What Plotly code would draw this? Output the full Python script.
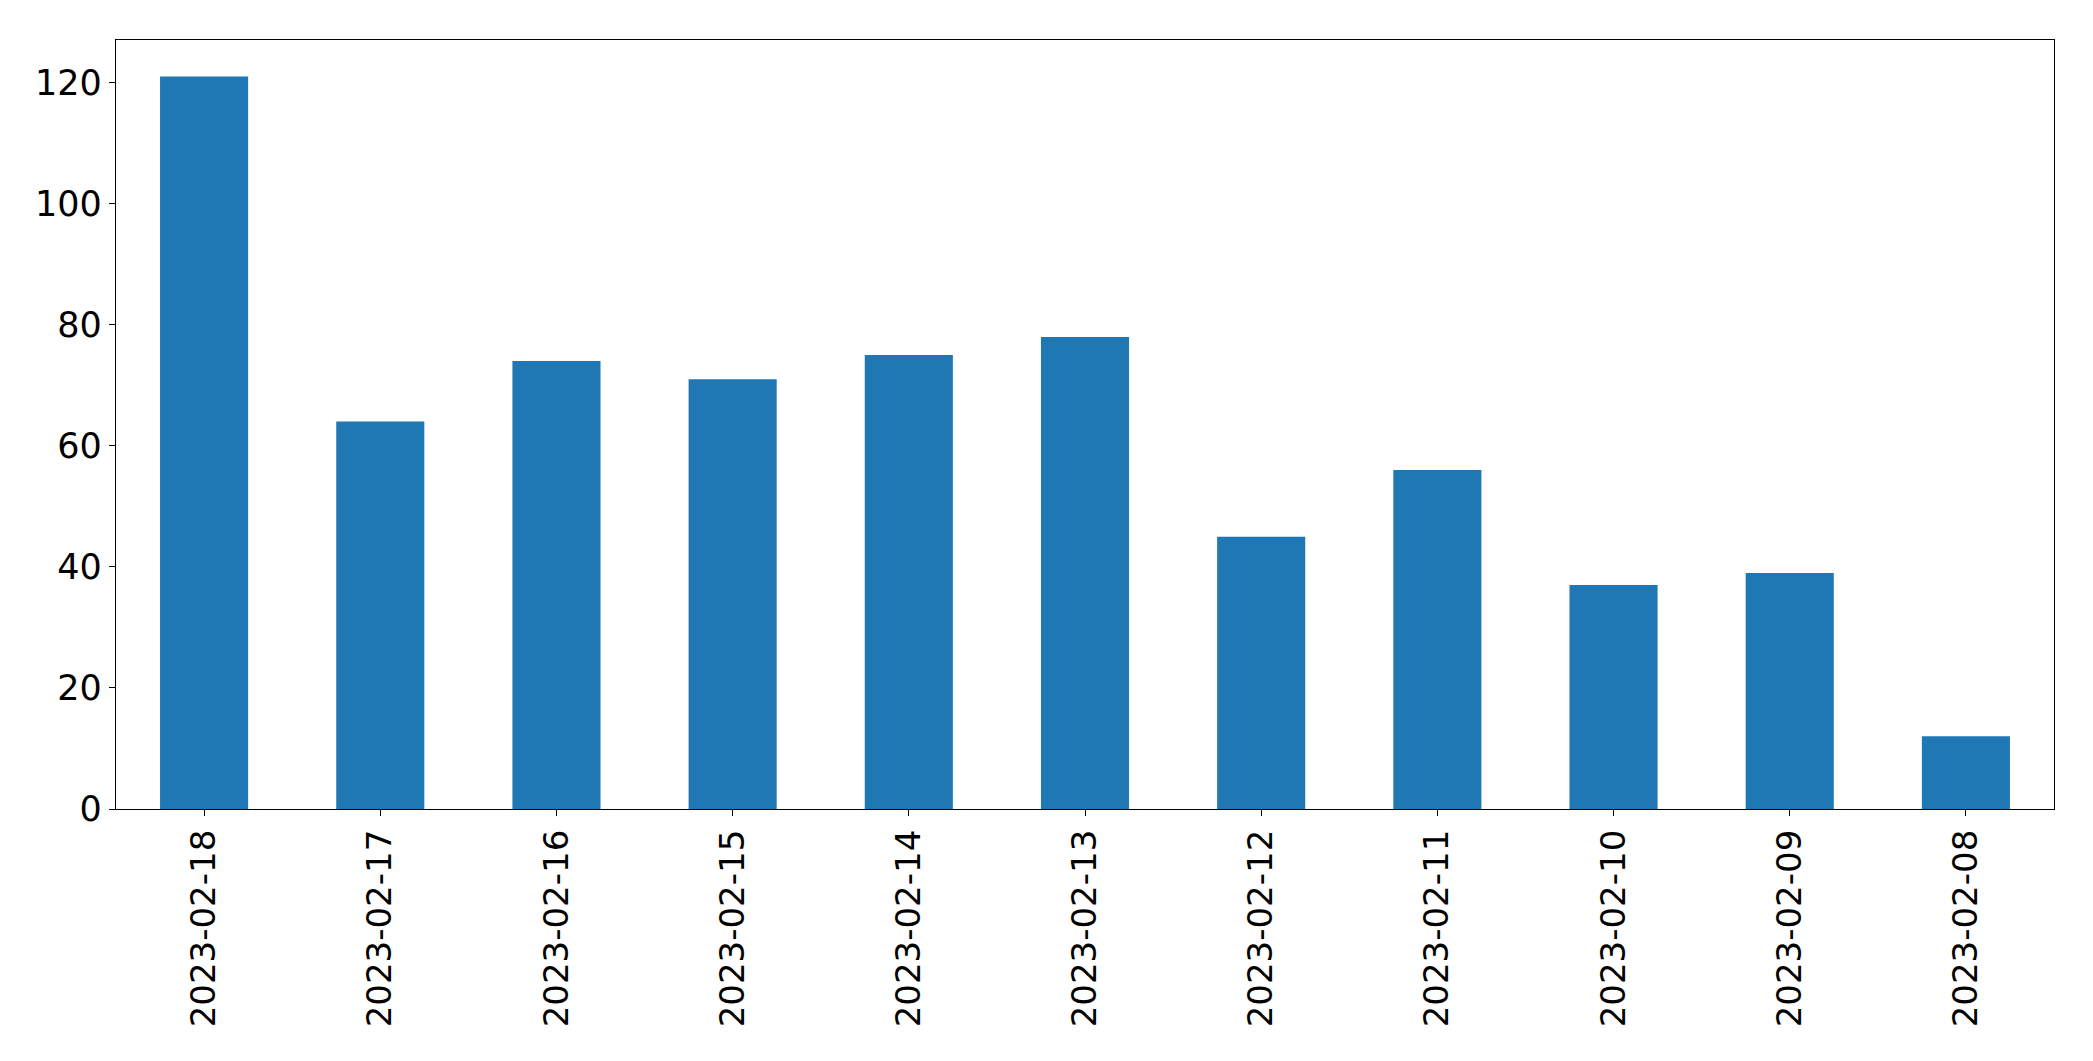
import plotly.graph_objects as go

dates = ["2023-02-18", "2023-02-17", "2023-02-16", "2023-02-15", "2023-02-14",
         "2023-02-13", "2023-02-12", "2023-02-11", "2023-02-10", "2023-02-09", "2023-02-08"]
counts = [121, 64, 74, 71, 75, 78, 45, 56, 37, 39, 12]
y_ticks = [0, 20, 40, 60, 80, 100, 120]

fig = go.Figure(go.Bar(x=dates, y=counts, marker_color="#1f77b4", marker_line_width=0, width=0.5))

fig.update_layout(
    width=2085, height=1053,
    margin=dict(l=108, r=39, t=32, b=252),
    plot_bgcolor="white", paper_bgcolor="white",
    font=dict(family="DejaVu Sans", size=35, color="black"),
    showlegend=False,
)
fig.update_xaxes(
    type="category", range=[-0.5, len(dates) - 0.5],
    showline=True, linecolor="black", linewidth=1.3, mirror=True,
    ticks="outside", ticklen=6, tickwidth=1.3, tickcolor="black",
    tickangle=-90, showgrid=False, tickfont=dict(size=34),
)
fig.update_yaxes(
    range=[0, max(counts) * 1.05], tickvals=y_ticks,
    showline=True, linecolor="black", linewidth=1.3, mirror=True,
    ticks="outside", ticklen=6, tickwidth=1.3, tickcolor="black",
    showgrid=False, zeroline=False, tickfont=dict(size=35),
)
fig.write_html("out.html", config={"displayModeBar": False})
